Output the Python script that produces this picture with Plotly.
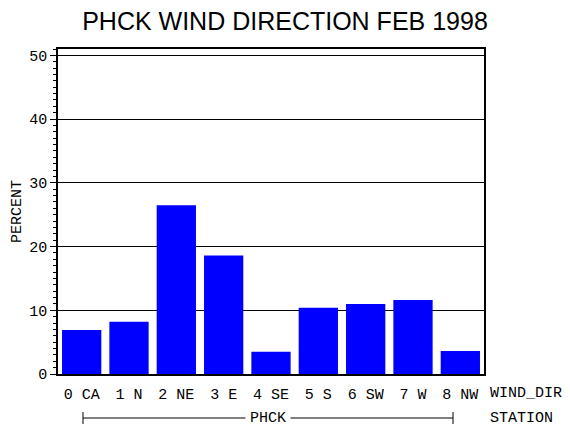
import plotly.graph_objects as go

# wind direction categories and percent of observations
wind_dir = ["0 CA", "1 N", "2 NE", "3 E", "4 SE", "5 S", "6 SW", "7 W", "8 NW"]
percent = [6.9, 8.2, 26.5, 18.6, 3.5, 10.4, 11.0, 11.6, 3.6]
y_ticks = [0, 10, 20, 30, 40, 50]

station = "PHCK"
title_text = "PHCK WIND DIRECTION FEB 1998"

mono = "Liberation Mono"

fig = go.Figure()

fig.add_trace(go.Bar(
    x=wind_dir,
    y=percent,
    marker=dict(color="#0000ff", line=dict(width=0)),
    showlegend=False,
))

fig.update_layout(
    width=570,
    height=430,
    paper_bgcolor="white",
    plot_bgcolor="white",
    margin=dict(l=58, r=86, t=49, b=56, autoexpand=False),
    bargap=0.17,
    title=dict(
        text=title_text,
        x=0.5,
        xanchor="center",
        y=1 - 21 / 430,
        yanchor="middle",
        font=dict(family="Liberation Sans", size=25, color="black"),
    ),
)

fig.update_xaxes(
    type="category",
    showline=True,
    linecolor="black",
    linewidth=1.5,
    mirror=True,
    showgrid=False,
    ticks="",
    ticklabelstandoff=5,
    tickfont=dict(family=mono, size=15, color="black"),
)

fig.update_yaxes(
    range=[0, 51],
    tickvals=y_ticks,
    showline=True,
    linecolor="black",
    linewidth=1.5,
    mirror=True,
    showgrid=True,
    gridcolor="black",
    gridwidth=1.2,
    zeroline=False,
    ticks="outside",
    ticklen=6,
    tickcolor="black",
    minor=dict(dtick=1, ticks="outside", ticklen=3, tickcolor="black", showgrid=False),
    tickfont=dict(family=mono, size=15, color="black"),
    title=dict(text="PERCENT", font=dict(family=mono, size=15, color="black"), standoff=4),
)

# axis variable name labels at right of the tick rows
fig.add_annotation(text="WIND_DIR", xref="paper", yref="paper", x=1.0, y=-19 / 325,
                   xanchor="left", yanchor="middle", xshift=4, showarrow=False,
                   font=dict(family=mono, size=15, color="black"))
fig.add_annotation(text="STATION", xref="paper", yref="paper", x=1.0, y=-44 / 325,
                   xanchor="left", yanchor="middle", xshift=4, showarrow=False,
                   font=dict(family=mono, size=15, color="black"))

# station bracket under the categories (spans paper x from ~0.06 to ~0.93)
y_br = -44 / 325
br_x0, br_x1 = 25 / 426, 395 / 426
fig.add_shape(type="line", xref="paper", yref="paper", x0=br_x0, x1=br_x1,
              y0=y_br, y1=y_br, line=dict(color="black", width=1))
for bx in [br_x0, br_x1]:
    fig.add_shape(type="line", xref="paper", yref="paper", x0=bx, x1=bx,
                  y0=y_br - 6 / 325, y1=y_br + 6 / 325, line=dict(color="black", width=1))
fig.add_annotation(text=station, xref="paper", yref="paper", x=(br_x0 + br_x1) / 2, y=y_br,
                   xanchor="center", yanchor="middle", showarrow=False,
                   bgcolor="white", borderpad=4,
                   font=dict(family=mono, size=15, color="black"))

# page has a default body margin; remove it so the figure fills the window
fig.write_html("out.html", config={"displayModeBar": False},
               post_script="document.body.style.margin='0';")
